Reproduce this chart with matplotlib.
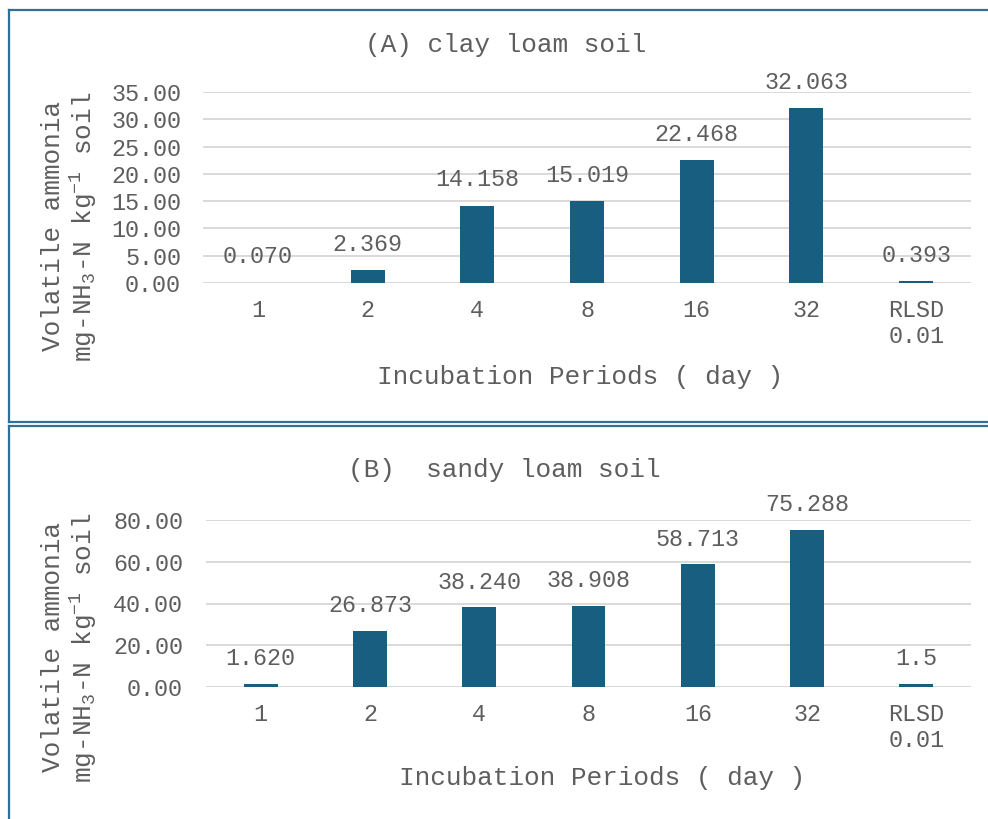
import matplotlib
matplotlib.use("Agg")
import matplotlib.pyplot as plt
from matplotlib.lines import Line2D

# Data
categories = ["1", "2", "4", "8", "16", "32", "RLSD\n0.01"]
clay_values = [0.070, 2.369, 14.158, 15.019, 22.468, 32.063, 0.393]
clay_labels = ["0.070", "2.369", "14.158", "15.019", "22.468", "32.063", "0.393"]
sandy_values = [1.620, 26.873, 38.240, 38.908, 58.713, 75.288, 1.5]
sandy_labels = ["1.620", "26.873", "38.240", "38.908", "58.713", "75.288", "1.5"]
clay_yticks = [0, 5, 10, 15, 20, 25, 30, 35]
sandy_yticks = [0, 20, 40, 60, 80]

W, H = 988, 819
DPI = 100
BAR = "#175e81"
TXT = "#5e5e5e"
GRID = "#d9d9d9"
EDGE = "#2e6e98"
FONT = "Liberation Mono"

plt.rcParams["font.family"] = [FONT, "DejaVu Sans"]
plt.rcParams["mathtext.fontset"] = "custom"
plt.rcParams["mathtext.rm"] = FONT
plt.rcParams["mathtext.it"] = FONT

fig = plt.figure(figsize=(W / DPI, H / DPI), dpi=DPI)
fig.patch.set_facecolor("white")


def fx(x):
    return x / W


def fy(y):
    return 1 - y / H


def panel(left, right, y_top, y_zero, values, labels, yticks, ypad, lab_off):
    ax = fig.add_axes([fx(left), fy(y_zero), (right - left) / W, (y_zero - y_top) / H])
    x = list(range(len(categories)))
    ax.bar(x, values, width=0.31, color=BAR, zorder=3)
    ax.set_xlim(-0.5, len(categories) - 0.5)
    ax.set_ylim(yticks[0], yticks[-1])
    ax.set_yticks(yticks)
    ax.set_yticklabels([f"{t:.2f}" for t in yticks])
    ax.set_xticks(x)
    ax.set_xticklabels(categories, linespacing=1.15)
    for s in ax.spines.values():
        s.set_visible(False)
    ax.yaxis.grid(True, color=GRID, linewidth=1.4, zorder=0)
    ax.tick_params(axis="both", length=0, colors=TXT, labelsize=16.8)
    ax.tick_params(axis="x", pad=11.5)
    ax.tick_params(axis="y", pad=ypad)
    for xi, v, lab in zip(x, values, labels):
        ax.annotate(lab, (xi, v), xytext=(0, lab_off), textcoords="offset points",
                    ha="center", va="center", fontsize=16.8, color=TXT, zorder=4,
                    annotation_clip=False)
    return ax


panel(203, 971, 92, 283, clay_values, clay_labels, clay_yticks, 15.8, 18.6)
panel(206, 971, 520, 687, sandy_values, sandy_labels, sandy_yticks, 16.5, 18)

# Titles
fig.text(fx(506), fy(45), "(A) clay loam soil", ha="center", va="center",
         fontsize=18.8, color=TXT)
fig.text(fx(504), fy(470), "(B)  sandy loam soil", ha="center", va="center",
         fontsize=18.8, color=TXT)

# Axis titles
fig.text(fx(580), fy(377), "Incubation Periods ( day )", ha="center", va="center",
         fontsize=18.8, color=TXT)
fig.text(fx(602), fy(778), "Incubation Periods ( day )", ha="center", va="center",
         fontsize=18.8, color=TXT)

unit = r"mg-NH$_\mathregular{3}$-N kg$^\mathregular{-1}$ soil"
for yc in (226, 647):
    fig.text(fx(53), fy(yc), "Volatile ammonia", rotation=90, ha="center",
             va="center", fontsize=18.8, color=TXT)
    fig.text(fx(84), fy(yc + 1), unit, rotation=90, ha="center", va="center",
             fontsize=18.8, color=TXT)

# Panel frames
def seg(x0, y0, x1, y1):
    fig.add_artist(Line2D([fx(x0), fx(x1)], [fy(y0), fy(y1)], color=EDGE,
                          linewidth=1.6, transform=fig.transFigure))


seg(9, 10, 990, 10)
seg(9, 10, 9, 422)
seg(9, 422, 990, 422)
seg(9, 426, 990, 426)
seg(9, 426, 9, 822)

fig.savefig("out.png", dpi=DPI, facecolor="white")
